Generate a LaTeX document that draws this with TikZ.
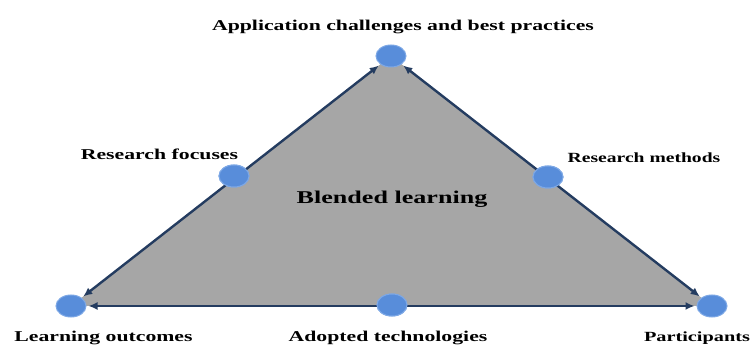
\documentclass[tikz,border=0pt]{standalone}
\usepackage{fontspec}
\usepackage{graphicx}
\setmainfont{Liberation Serif}
\usetikzlibrary{arrows.meta,shapes.geometric}
\definecolor{tri}{RGB}{166,166,166}
\definecolor{navy}{RGB}{36,60,96}
\definecolor{dotfill}{RGB}{88,141,218}
\definecolor{dotrim}{RGB}{125,168,230}
\newcommand{\wide}[1]{\scalebox{1.45}[1]{#1}}
\tikzset{
  dot/.style={ellipse,fill=dotfill,draw=dotrim,line width=1pt,minimum width=30pt,minimum height=22pt,inner sep=0pt},
  lbl/.style={font=\bfseries\fontsize{15}{17}\selectfont,inner sep=0pt},
  conn/.style={navy,line width=2.4pt,{Latex[length=9pt,width=8pt]}-{Latex[length=9pt,width=8pt]},shorten <=2pt,shorten >=2pt}
}
\begin{document}
\begin{tikzpicture}[x=1pt,y=-1pt]
\useasboundingbox (0,0) rectangle (750,347);
\coordinate (T) at (391,56);
\coordinate (L) at (71,306);
\coordinate (R) at (712,306);
\fill[tri] (T) -- (R) -- (L) -- cycle;
\node[dot] (top) at (T) {};
\node[dot] (bl) at (L) {};
\node[dot] (br) at (R) {};
\node[dot] (lm) at (234,176) {};
\node[dot] (rm) at (548,177) {};
\node[dot] (bm) at (392,305) {};
\draw[conn] (bl) -- (top);
\draw[conn] (top) -- (br);
\draw[conn] (bl) -- (br);
\node[dot] at (lm) {};
\node[dot] at (rm) {};
\node[dot] at (bm) {};
\node[lbl] (t1) at (403,27) {\wide{Application challenges and best practices}};
\node[lbl] (t2) at (159.5,154) {\wide{Research focuses}};
\node[lbl,font=\bfseries\fontsize{14}{16}\selectfont] (t3) at (644,158) {\scalebox{1.4}[1]{Research methods}};
\node[lbl,font=\bfseries\fontsize{18}{20}\selectfont] (t4) at (392,199) {\wide{Blended learning}};
\node[lbl] (t5) at (103.5,338) {\wide{Learning outcomes}};
\node[lbl] (t6) at (388,338) {\wide{Adopted technologies}};
\node[lbl,font=\bfseries\fontsize{14}{16}\selectfont] (t7) at (697,338) {\wide{Participants}};
\end{tikzpicture}
\end{document}
